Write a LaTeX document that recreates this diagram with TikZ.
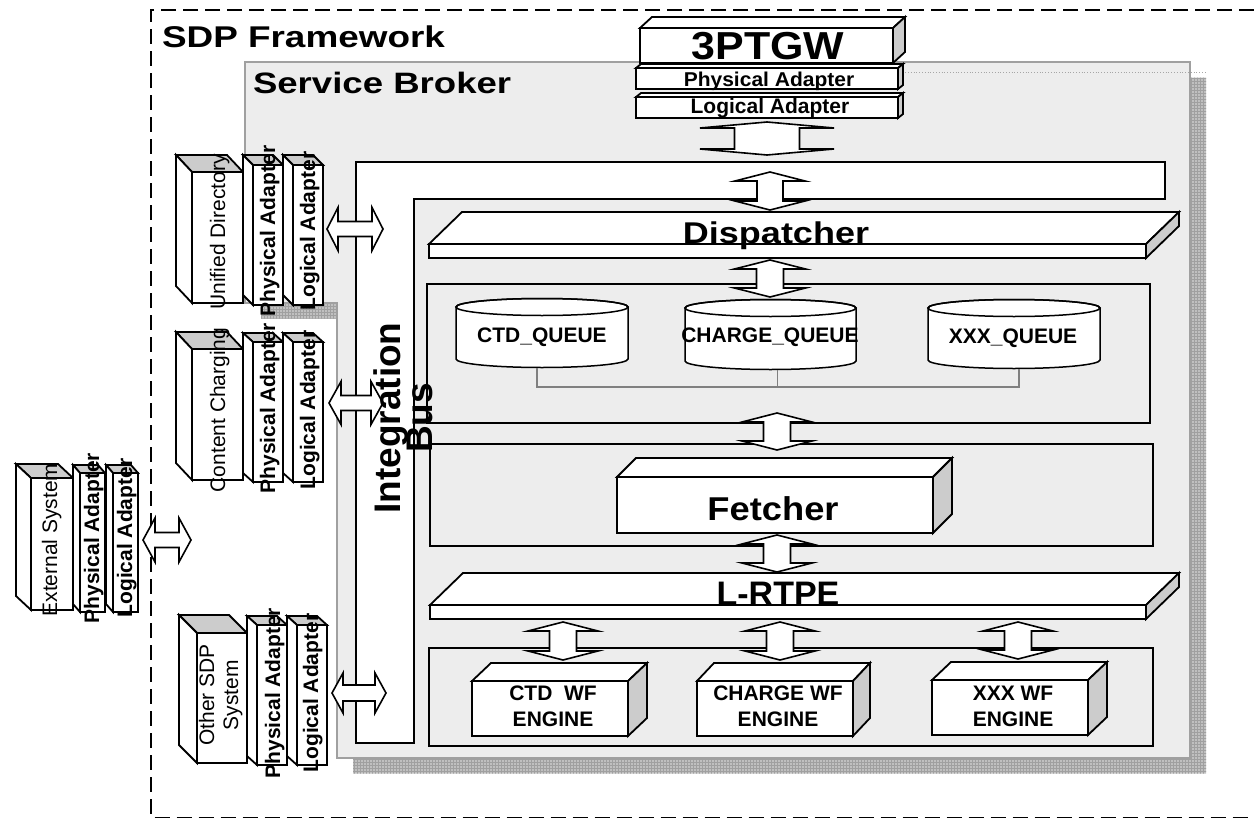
\documentclass[tikz,border=0pt]{standalone}
\usepackage{fontspec}
\setmainfont{Liberation Sans}
\usetikzlibrary{calc,fit,patterns}

\definecolor{sidegray}{RGB}{204,204,204}
\definecolor{brokerfill}{RGB}{237,237,237}
\definecolor{brokeredge}{RGB}{160,160,160}
\definecolor{shadowfill}{RGB}{192,192,192}
\definecolor{shadowline}{RGB}{160,160,160}
\definecolor{queueline}{RGB}{128,128,128}

\newcommand{\setsz}[2]{\fontsize{#1}{#2}\selectfont}
\newcommand{\hstretch}[2]{\scalebox{#1}[1]{#2}}
\newcommand{\tightlines}{\lineskiplimit=-50pt\relax}

\tikzset{
  face/.style={draw=black, line width=1.8pt, line join=miter},
  front/.style={face, fill=white, inner sep=0pt, outer sep=0pt},
  frame/.style={draw=black, line width=1.6pt, inner sep=0pt, outer sep=0pt},
  lbl/.style={inner sep=0pt, outer sep=0pt},
  dashline/.style={line width=1.5pt, dash pattern=on 15pt off 7pt},
  qline/.style={draw=queueline, line width=1.3pt},
  blockarrow/.style={draw=black, line width=1.6pt, fill=white, line join=miter},
  % vertical double block arrow: shaft half-width, head half-width, head length
  vblock/.style n args={3}{blockarrow, to path={let \p1=(\tikztostart), \p2=(\tikztotarget) in
     (\x1,\y1) -- (\x1+#2pt,\y1-#3pt) -- (\x1+#1pt,\y1-#3pt) -- (\x1+#1pt,\y2+#3pt)
     -- (\x1+#2pt,\y2+#3pt) -- (\x1,\y2) -- (\x1-#2pt,\y2+#3pt) -- (\x1-#1pt,\y2+#3pt)
     -- (\x1-#1pt,\y1-#3pt) -- (\x1-#2pt,\y1-#3pt) -- cycle}},
  % horizontal double block arrow: shaft half-width, head half-width, head length
  hblock/.style n args={3}{blockarrow, to path={let \p1=(\tikztostart), \p2=(\tikztotarget) in
     (\x1,\y1) -- (\x1+#3pt,\y1+#2pt) -- (\x1+#3pt,\y1+#1pt) -- (\x2-#3pt,\y1+#1pt)
     -- (\x2-#3pt,\y1+#2pt) -- (\x2,\y1) -- (\x2-#3pt,\y1-#2pt) -- (\x2-#3pt,\y1-#1pt)
     -- (\x1+#3pt,\y1-#1pt) -- (\x1+#3pt,\y1-#2pt) -- cycle}},
  titlefont/.style={font=\bfseries\setsz{#1}{#1}},
  adapterfont/.style={font=\bfseries\setsz{21}{24}},
  sysfont/.style={font=\setsz{21}{24}},
}

% box seen from the upper right: white top, shaded right side
\newcommand{\cubeR}[3]{%
  \draw[face, fill=white] (#1.north west) -- ++(#2,#3) -- ($(#1.north east)+(#2,#3)$) -- (#1.north east) -- cycle;
  \draw[face, fill=sidegray] (#1.north east) -- ++(#2,#3) -- ($(#1.south east)+(#2,#3)$) -- (#1.south east) -- cycle;}
% box seen from the upper left: shaded top, white left side
\newcommand{\cubeL}[3]{%
  \draw[face, fill=sidegray] (#1.north west) -- ++(#2,#3) -- ($(#1.north east)+(#2,#3)$) -- (#1.north east) -- cycle;
  \draw[face, fill=white] (#1.north west) -- ++(#2,#3) -- ($(#1.south west)+(#2,#3)$) -- (#1.south west) -- cycle;}
% queue drum between the centres of its two caps
\newcommand{\drum}[3]{%
  \draw[face, line width=1.5pt, fill=white] (#1.north west) -- (#1.south west)
    arc[start angle=180, end angle=360, x radius=#2pt, y radius=#3pt] -- (#1.north east)
    arc[start angle=0, end angle=180, x radius=#2pt, y radius=#3pt] -- cycle;
  \draw[face, line width=1.5pt] (#1.north) ellipse[x radius=#2pt, y radius=#3pt];}

\begin{document}
\begin{tikzpicture}[x=1pt, y=-1pt]
\useasboundingbox (0,0) rectangle (1254,819);

% ---------------- SDP framework frame ----------------
\coordinate (fw-nw) at (151,10);
\coordinate (fw-sw) at (151,817.5);
\draw[dashline] (1254,10) -- (fw-nw) -- (fw-sw) -- (1254,817.5);
\node[lbl, anchor=base west, titlefont=30] (sdp-title) at (162,47) {\hstretch{1.23}{SDP Framework}};

% ---------------- service broker ----------------
\begin{scope}[shift={(16,15.5)}]
  \fill[shadowfill] (245,62) -- (1190,62) -- (1190,758) -- (337,758) -- (337,303) -- (245,303) -- cycle;
  \fill[pattern=grid, pattern color=shadowline] (245,62) -- (1190,62) -- (1190,758) -- (337,758) -- (337,303) -- (245,303) -- cycle;
\end{scope}
\draw[draw=brokeredge, line width=1.5pt, fill=brokerfill]
  (245,62) -- (1190,62) -- (1190,758) -- (337,758) -- (337,303) -- (245,303) -- cycle;
\draw[dotted, line width=0.8pt, draw=gray!70] (880,72) -- (1205,72);
\node[lbl, anchor=base west, titlefont=29.5] (broker-title) at (253,93) {\hstretch{1.24}{Service Broker}};

% ---------------- integration bus ----------------
\coordinate (bus-nw) at (356,162);
\coordinate (bus-ne) at (1165,162);
\coordinate (bus-sw) at (356,743);
\coordinate (bus-port) at (383,0);
\draw[line width=1.4pt, fill=white] (bus-nw) -- (bus-ne) -- (1165,199) -- (414,199) -- (414,743) -- (bus-sw) -- cycle;

% ---------------- containers ----------------
\node[frame, fit={(427,284) (1150,423)}] (queuebox) {};
\node[frame, fit={(430,444) (1153,546)}] (fetchbox) {};
\node[frame, fit={(429,648) (1153,746)}] (enginebox) {};

% ---------------- dispatcher ----------------
\node[front, fit={(429,244) (1146,258)}] (disp) {};
\cubeR{disp}{33}{-32}
\node[lbl, anchor=base, titlefont=30] (disp-label) at (776,243) {\hstretch{1.2}{Dispatcher}};

% ---------------- queues ----------------
\node[lbl, fit={(456,307) (628,359)}] (ctdq) {};
\drum{ctdq}{86}{8.5}
\node[lbl, fit={(685,308) (856,361)}] (chq) {};
\drum{chq}{85.5}{8.5}
\node[lbl, fit={(928,308) (1100,360)}] (xxq) {};
\drum{xxq}{86}{8.5}
\node[lbl, anchor=base, font=\bfseries\setsz{21}{25}] (ctdq-label) at (542,342) {CTD\_QUEUE};
\node[lbl, anchor=base, font=\bfseries\setsz{21}{25}] (chq-label) at (770,342) {CHARGE\_QUEUE};
\node[lbl, anchor=base, font=\bfseries\setsz{21}{25}] (xxq-label) at (1013,343) {XXX\_QUEUE};
\draw[qline] ($(ctdq.south)+(-5,9)$) |- ($(xxq.south)+(5,27)$) -- ($(xxq.south)+(5,9)$);
\draw[qline] ($(chq.south)+(7,9)$) -- ($(chq.south)+(7,26)$);

% ---------------- fetcher ----------------
\node[front, fit={(617,477) (933,533)}] (fetcher) {};
\cubeR{fetcher}{19}{-19}
\node[lbl, anchor=base, titlefont=33] (fetcher-label) at (773,520) {\hstretch{1.1}{Fetcher}};

% ---------------- L-RTPE ----------------
\node[front, fit={(430,605) (1146,619)}] (lrtpe) {};
\cubeR{lrtpe}{33}{-32}
\node[lbl, anchor=base, titlefont=34] (lrtpe-label) at (778,605) {L-RTPE};

% ---------------- workflow engines ----------------
\node[front, fit={(472,681) (628,736)}] (ctdwf) {};
\cubeR{ctdwf}{19}{-18}
\node[front, fit={(697,681) (853,736)}] (chwf) {};
\cubeR{chwf}{17}{-18}
\node[front, fit={(932,680) (1088,735)}] (xxwf) {};
\cubeR{xxwf}{19}{-18}
\node[lbl, align=center, font=\bfseries\setsz{21}{26}] (ctdwf-label) at (553,706.5) {CTD\ \ WF\\ENGINE};
\node[lbl, align=center, font=\bfseries\setsz{21}{26}] (chwf-label) at (778,706.5) {CHARGE WF\\ENGINE};
\node[lbl, align=center, font=\bfseries\setsz{21}{26}] (xxwf-label) at (1013,706.5) {XXX WF\\ENGINE};

% ---------------- 3PTGW stack ----------------
\node[front, fit={(640,28) (893,63)}] (gw) {};
\cubeR{gw}{12}{-11}
\node[lbl, anchor=base, titlefont=39] (gw-label) at (768,59) {\hstretch{1.1}{3PTGW}};
\node[front, fit={(636,68) (898,89)}] (gwphy) {};
\cubeR{gwphy}{5}{-4}
\node[lbl, anchor=base, font=\bfseries\setsz{20}{24}] (gwphy-label) at (769,86) {\hstretch{1.05}{Physical Adapter}};
\node[front, fit={(636,97) (898,118)}] (gwlog) {};
\cubeR{gwlog}{5}{-4}
\node[lbl, anchor=base, font=\bfseries\setsz{21}{24}] (gwlog-label) at (770,113) {Logical Adapter};

% ---------------- Unified Directory ----------------
\node[front, fit={(192,172) (243,303)}] (ud) {};
\cubeL{ud}{-16}{-17}
\node[front, fit={(253,165) (283,305)}] (udphy) {};
\cubeL{udphy}{-10}{-10}
\node[front, fit={(293,165) (323,305)}] (udlog) {};
\cubeL{udlog}{-10}{-10}
\node[lbl, rotate=90, anchor=base, sysfont] (ud-label) at (225,232) {Unified Directory};
\node[lbl, rotate=90, anchor=base, adapterfont] (udphy-label) at (275,231) {Physical Adapter};
\node[lbl, rotate=90, anchor=base, adapterfont] (udlog-label) at (315,231) {Logical Adapter};

% ---------------- Content Charging ----------------
\node[front, fit={(192,349) (243,480)}] (cc) {};
\cubeL{cc}{-16}{-17}
\node[front, fit={(253,342) (283,482)}] (ccphy) {};
\cubeL{ccphy}{-10}{-9}
\node[front, fit={(293,342) (323,482)}] (cclog) {};
\cubeL{cclog}{-10}{-9}
\node[lbl, rotate=90, anchor=base, sysfont] (cc-label) at (225,410) {Content Charging};
\node[lbl, rotate=90, anchor=base, adapterfont] (ccphy-label) at (275,408) {Physical Adapter};
\node[lbl, rotate=90, anchor=base, adapterfont] (cclog-label) at (315,410) {Logical Adapter};

% ---------------- Other SDP System ----------------
\node[front, fit={(197,633) (247,763)}] (os) {};
\cubeL{os}{-18}{-18}
\node[front, fit={(257,625) (287,765)}] (osphy) {};
\cubeL{osphy}{-10}{-9}
\node[front, fit={(297,625) (327,765)}] (oslog) {};
\cubeL{oslog}{-10}{-9}
\node[lbl, rotate=90, align=center, sysfont] (os-label) at (220.7,695) {Other SDP\\System};
\node[lbl, rotate=90, anchor=base, adapterfont] (osphy-label) at (280,693) {Physical Adapter};
\node[lbl, rotate=90, anchor=base, adapterfont] (oslog-label) at (318,693) {Logical Adapter};

% ---------------- External System ----------------
\node[front, fit={(31,478) (73,610)}] (es) {};
\cubeL{es}{-15}{-14}
\node[front, fit={(80,473) (105,612)}] (esphy) {};
\cubeL{esphy}{-7}{-8}
\node[front, fit={(113,473) (138,612)}] (eslog) {};
\cubeL{eslog}{-7}{-8}
\node[lbl, rotate=90, anchor=base, sysfont] (es-label) at (57,540) {External System};
\node[lbl, rotate=90, anchor=base, adapterfont] (esphy-label) at (99,538) {Physical Adapter};
\node[lbl, rotate=90, anchor=base, adapterfont] (eslog-label) at (132,538) {Logical Adapter};
\coordinate (es-port) at (191,540);

% ---------------- block arrows ----------------
\coordinate (col-d) at (770,0);
\coordinate (col-f) at (777,0);
\draw[vblock={32.5}{67}{6}] ($(gwlog.south)+(0,4)$) to ($(gwlog.south |- bus-nw)+(0,-7)$);
\draw[vblock={13}{35}{9}] ($(bus-nw -| col-d)+(0,10)$) to ($(disp.north -| col-d)+(0,-34)$);
\draw[vblock={13.5}{35.5}{9}] ($(disp.south -| col-d)+(0,2)$) to ($(queuebox.north -| col-d)+(0,13)$);
\draw[vblock={13.5}{35}{9}] ($(queuebox.south -| col-f)+(0,-10)$) to ($(fetchbox.north -| col-f)+(0,6)$);
\draw[vblock={13.5}{35}{9}] ($(fetchbox.south -| col-f)+(0,-11)$) to ($(lrtpe.north -| col-f)+(0,-33)$);
\draw[vblock={13.5}{35}{9}] ($(lrtpe.south -| ctdwf.north)+(13,3)$) to ($(ctdwf.north)+(13,-21)$);
\draw[vblock={13.5}{35}{9}] ($(lrtpe.south -| chwf.north)+(5,3)$) to ($(chwf.north)+(5,-21)$);
\draw[vblock={13.5}{35}{9}] ($(lrtpe.south -| xxwf.north)+(8,3)$) to ($(xxwf.north)+(8,-21)$);

\draw[hblock={7.5}{21.5}{11}] ($(udlog.east)+(4,-6)$) to ($(udlog.east -| bus-port)+(0,-6)$);
\draw[hblock={7.5}{21.5}{12}] ($(cclog.east)+(6,-9)$) to ($(cclog.east -| bus-port)+(0,-9)$);
\draw[hblock={8}{20}{11}] ($(oslog.east)+(5,-2)$) to ($(oslog.east -| bus-port)+(3,-2)$);
\draw[hblock={7.5}{22}{12}] ($(eslog.east)+(5,-2.5)$) to (es-port);

% ---------------- bus caption ----------------
\node[lbl, rotate=90, align=center, font=\bfseries\setsz{37}{32}\tightlines] (bus-label) at (403,418) {Integration\\Bus};
\end{tikzpicture}
\end{document}
